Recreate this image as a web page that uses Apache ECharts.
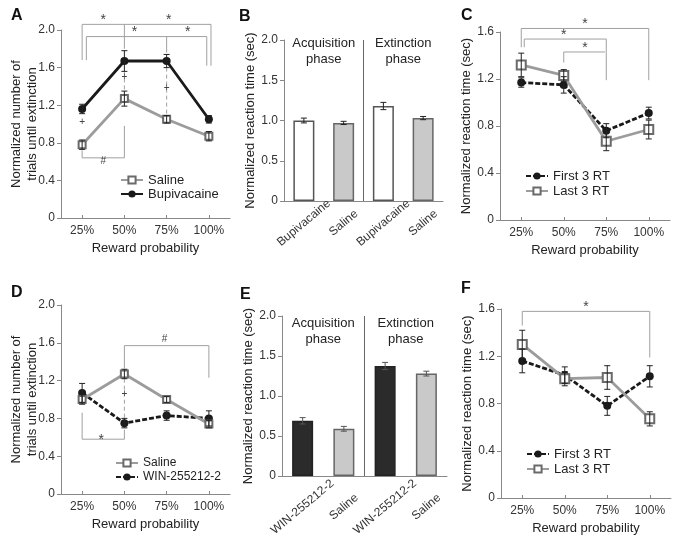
<!DOCTYPE html>
<html>
<head>
<meta charset="utf-8">
<script src="https://cdn.jsdelivr.net/npm/echarts@6/dist/echarts.min.js"></script>
<style>
  html, body { margin: 0; padding: 0; background: #fff; }
  #chart { width: 680px; height: 549px; }
</style>
</head>
<body>
<div id="chart"></div>
<script>
const FONT = '"Liberation Sans", Arial, sans-serif'

// x categories
const probLabels = ['25%', '50%', '75%', '100%']
const bCats = ['Bupivacaine', 'Saline', 'Bupivacaine', 'Saline']
const eCats = ['WIN-255212-2', 'Saline', 'WIN-255212-2', 'Saline']

// A: trials until extinction
const aSaline = [0.78, 1.27, 1.05, 0.87]
const aSalineErr = [0.05, 0.08, 0.04, 0.05]
const aBupi = [1.16, 1.67, 1.67, 1.05]
const aBupiErr = [0.05, 0.11, 0.07, 0.04]

// B: reaction time
const bValues = [1.00, 0.97, 1.18, 1.03]
const bErr = [0.03, 0.02, 0.045, 0.02]

// C: first / last 3 RT
const cFirst = [1.17, 1.15, 0.76, 0.91]
const cFirstErr = [0.04, 0.07, 0.06, 0.05]
const cLast = [1.32, 1.23, 0.67, 0.77]
const cLastErr = [0.10, 0.05, 0.08, 0.08]

// D: trials until extinction
const dSaline = [1.00, 1.27, 1.00, 0.74]
const dSalineErr = [0.05, 0.05, 0.03, 0.04]
const dWin = [1.07, 0.75, 0.83, 0.80]
const dWinErr = [0.10, 0.05, 0.05, 0.08]

// E: reaction time
const eValues = [0.69, 0.59, 1.375, 1.28]
const eErr = [0.04, 0.03, 0.045, 0.03]

// F: first / last 3 RT
const fFirst = [1.16, 1.04, 0.78, 1.03]
const fFirstErr = [0.10, 0.07, 0.08, 0.09]
const fLast = [1.30, 1.01, 1.02, 0.67]
const fLastErr = [0.12, 0.06, 0.10, 0.06]

// annotation brackets [x0, y0, x1, y1] in category index / value units
const aBrackets = [
  [0, 1.68, 0, 2.06], [0, 2.06, 3.05, 2.06], [1, 2.06, 1, 1.80], [3.05, 2.06, 3.05, 1.62],
  [0.1, 1.68, 0.1, 1.93], [0.1, 1.93, 2.95, 1.93], [2, 1.93, 2, 1.76], [2.95, 1.93, 2.95, 1.62],
  [0, 0.72, 0, 0.64], [0, 0.64, 1, 0.64], [1, 0.64, 1, 0.98],
]
const aDashed = [[1, 1.56, 1, 1.36], [2, 1.60, 2, 1.09]]
const aMarks = [
  [0.5, 2.06, '*'], [2.05, 2.06, '*'], [1.24, 1.93, '*'], [2.5, 1.93, '*'],
  [0, 0.98, '+'], [1, 1.46, '+'], [2, 1.34, '+'], [0.5, 0.56, '#'],
]
const cBrackets = [
  [0, 1.47, 0, 1.63], [0, 1.63, 3, 1.63], [3, 1.63, 3, 1.19],
  [0.07, 1.47, 0.07, 1.54], [0.07, 1.54, 2, 1.54], [2, 1.54, 2, 1.19],
  [1, 1.34, 1, 1.43], [1, 1.43, 1.97, 1.43],
]
const cMarks = [[1.5, 1.63, '*'], [1.0, 1.54, '*'], [1.5, 1.43, '*']]
const dBrackets = [
  [1, 1.33, 1, 1.57], [1, 1.57, 3, 1.57], [3, 1.57, 3, 1.23],
  [0, 0.86, 0, 0.58], [0, 0.58, 1, 0.58], [1, 0.58, 1, 0.68],
]
const dDashed = [[1, 1.22, 1, 0.80]]
const dMarks = [[1.95, 1.59, '#'], [1, 1.01, '+'], [0.45, 0.53, '*']]
const fBrackets = [[0, 1.46, 0, 1.58], [0, 1.58, 3, 1.58], [3, 1.58, 3, 1.19]]
const fMarks = [[1.5, 1.58, '*']]
const phaseDivider = [[1.5, 0, 1.5, 2.0]]
const bPhases = [[0.5, 1.86, 'Acquisition\nphase'], [2.5, 1.86, 'Extinction\nphase']]
const ePhases = [[0.5, 1.81, 'Acquisition\nphase'], [2.5, 1.81, 'Extinction\nphase']]

const chart = echarts.init(document.getElementById('chart'))

// point on a category axis that allows fractional indexes
const pt = (api, x, y) => {
  const i = Math.round(x)
  const p = api.coord([i, y])
  p[0] += (x - i) * api.size([1, 0])[0]
  return p
}

const segments = (gi, list, opts = {}) => ({
  type: 'custom', xAxisIndex: gi, yAxisIndex: gi, silent: true, z: 1,
  data: list.map(s => [Math.round(s[0]), s[1]]),
  renderItem: (params, api) => {
    const s = list[params.dataIndex]
    const p0 = pt(api, s[0], s[1])
    const p1 = pt(api, s[2], s[3])
    return {
      type: 'line',
      shape: { x1: p0[0], y1: p0[1], x2: p1[0], y2: p1[1] },
      style: { stroke: opts.color || '#a0a0a0', lineWidth: 1, lineDash: opts.dashed ? [4, 3] : null },
    }
  },
})

const marks = (gi, list) => ({
  type: 'custom', xAxisIndex: gi, yAxisIndex: gi, silent: true, z: 5,
  data: list.map(m => [Math.round(m[0]), m[1]]),
  renderItem: (params, api) => {
    const m = list[params.dataIndex]
    const p = pt(api, m[0], m[1])
    const big = m[2].length > 1
    return {
      type: 'text',
      x: p[0],
      y: p[1] + (big ? 0 : -4),
      style: {
        text: m[2],
        fill: big ? '#222' : '#444',
        fontSize: big ? 13 : (m[2] === '*' ? 14 : 10),
        fontFamily: FONT,
        lineHeight: 16,
        align: 'center',
        verticalAlign: 'middle',
      },
    }
  },
})

const errorBars = (gi, vals, errs, color) => ({
  type: 'custom', xAxisIndex: gi, yAxisIndex: gi, silent: true, z: 4,
  data: vals.map((v, i) => [i, v, errs[i]]),
  renderItem: (params, api) => {
    const i = api.value(0), v = api.value(1), e = api.value(2)
    const top = api.coord([i, v + e])
    const bot = api.coord([i, v - e])
    const style = { stroke: color || '#222', lineWidth: 1 }
    const w = 3
    return {
      type: 'group',
      children: [
        { type: 'line', shape: { x1: top[0], y1: top[1], x2: bot[0], y2: bot[1] }, style },
        { type: 'line', shape: { x1: top[0] - w, y1: top[1], x2: top[0] + w, y2: top[1] }, style },
        { type: 'line', shape: { x1: bot[0] - w, y1: bot[1], x2: bot[0] + w, y2: bot[1] }, style },
      ],
    }
  },
})

const grids = [
  { left: 61, top: 30, width: 169, height: 188 },
  { left: 284, top: 40, width: 159, height: 161 },
  { left: 500, top: 32, width: 170, height: 188 },
  { left: 61, top: 305, width: 169, height: 189 },
  { left: 282, top: 316, width: 165, height: 160 },
  { left: 501, top: 309, width: 170, height: 189 },
]

const axisLine = { show: true, lineStyle: { color: '#888', width: 1 } }

const probAxis = gi => ({
  type: 'category', gridIndex: gi, data: probLabels,
  name: 'Reward probability', nameLocation: 'middle', nameGap: 24,
  nameTextStyle: { fontSize: 13, color: '#222', fontFamily: FONT },
  axisLine,
  axisTick: { show: true, alignWithLabel: true, inside: true, length: 3, lineStyle: { color: '#888' } },
  axisLabel: { fontSize: 12, color: '#333', margin: 7, fontFamily: FONT },
})

// rotated labels centred under each bar
const groupAxis = (gi, cats, margin) => ({
  type: 'category', gridIndex: gi, data: cats,
  axisLine,
  axisTick: { show: false },
  axisLabel: {
    fontSize: 12, color: '#333', margin, rotate: 40, interval: 0, fontFamily: FONT,
    align: 'center', verticalAlign: 'middle',
  },
})

const valueAxis = (gi, max, step, name, gap) => ({
  type: 'value', gridIndex: gi, min: 0, max, interval: step,
  name, nameLocation: 'middle', nameGap: gap, nameMoveOverlap: false,
  nameTextStyle: { fontSize: 13, color: '#222', lineHeight: 16, fontFamily: FONT },
  axisLine,
  axisTick: { show: true, length: 4, lineStyle: { color: '#888' } },
  splitLine: { show: false },
  axisLabel: {
    fontSize: 12, color: '#333', margin: 6, fontFamily: FONT,
    formatter: v => (v === 0 ? '0' : v.toFixed(1)),
  },
})

const trialsName = 'Normalized number of\ntrials until extinction'
const rtName = 'Normalized reaction time (sec)'

const gray = '#9c9c9c'
const black = '#1a1a1a'

const salineLine = (gi, data, size) => ({
  name: 'Saline', type: 'line', xAxisIndex: gi, yAxisIndex: gi, data,
  symbol: 'emptyRect', symbolSize: size,
  lineStyle: { color: gray, width: 2.8 },
  itemStyle: { color: '#6a6a6a', borderWidth: 1.3 },
  z: 3,
})

const blackLine = (name, gi, data, dashed) => ({
  name, type: 'line', xAxisIndex: gi, yAxisIndex: gi, data,
  symbol: 'circle', symbolSize: 8,
  lineStyle: { color: black, width: 2.8, type: dashed ? [5, 2] : 'solid' },
  itemStyle: { color: black },
  z: 2,
})

const lastLine = (gi, data) => ({
  name: 'Last 3 RT', type: 'line', xAxisIndex: gi, yAxisIndex: gi, data,
  symbol: 'emptyRect', symbolSize: 9,
  lineStyle: { color: gray, width: 2.8 },
  itemStyle: { color: '#6a6a6a', borderWidth: 1.3 },
  z: 3,
})

const bars = (gi, values, fills, borders) => ({
  type: 'bar', xAxisIndex: gi, yAxisIndex: gi, barWidth: 21,
  data: values.map((v, i) => ({ value: v, itemStyle: { color: fills[i], borderColor: borders[i], borderWidth: 1.5 } })),
  z: 2,
})

const legend = (names, left, top, gap, size) => ({
  orient: 'vertical', left, top, itemGap: gap, itemWidth: 22, itemHeight: 9, padding: 0,
  data: names, selectedMode: false,
  textStyle: { fontSize: size, color: '#222', lineHeight: 14, fontFamily: FONT },
})

const letter = (text, left, top) => ({
  text, left, top, padding: 0,
  textStyle: { fontSize: 16, fontWeight: 'bold', color: '#111', fontFamily: FONT },
})

const option = {
  animation: false,
  backgroundColor: '#fff',
  textStyle: { fontFamily: FONT },
  title: [
    letter('A', 11, 8), letter('B', 239, 9), letter('C', 461, 8),
    letter('D', 11, 285), letter('E', 240, 287), letter('F', 461, 281),
  ],
  legend: [
    legend(['Saline', 'Bupivacaine'], 120, 173, 0, 13),
    legend(['First 3 RT', 'Last 3 RT'], 525, 169, 1, 13),
    legend(['Saline', 'WIN-255212-2'], 115, 456, 0, 12),
    legend(['First 3 RT', 'Last 3 RT'], 526, 447, 1, 13),
  ],
  grid: grids,
  xAxis: [
    probAxis(0), groupAxis(1, bCats, 22), probAxis(2),
    probAxis(3), groupAxis(4, eCats, 31), probAxis(5),
  ],
  yAxis: [
    valueAxis(0, 2.0, 0.4, trialsName, 21),
    valueAxis(1, 2.0, 0.5, rtName, 26),
    valueAxis(2, 1.6, 0.4, rtName, 26),
    valueAxis(3, 2.0, 0.4, trialsName, 21),
    valueAxis(4, 2.0, 0.5, rtName, 26),
    valueAxis(5, 1.6, 0.4, rtName, 26),
  ],
  series: [
    // A
    segments(0, aBrackets),
    segments(0, aDashed, { dashed: true }),
    marks(0, aMarks),
    salineLine(0, aSaline, 7),
    blackLine('Bupivacaine', 0, aBupi, false),
    errorBars(0, aSaline, aSalineErr),
    errorBars(0, aBupi, aBupiErr),
    // B
    bars(1, bValues, ['#ffffff', '#c9c9c9', '#ffffff', '#c9c9c9'], ['#555', '#666', '#555', '#666']),
    errorBars(1, bValues, bErr),
    segments(1, phaseDivider, { color: '#666' }),
    marks(1, bPhases),
    // C
    segments(2, cBrackets),
    marks(2, cMarks),
    blackLine('First 3 RT', 2, cFirst, true),
    lastLine(2, cLast),
    errorBars(2, cFirst, cFirstErr),
    errorBars(2, cLast, cLastErr),
    // D
    segments(3, dBrackets),
    segments(3, dDashed, { dashed: true }),
    marks(3, dMarks),
    salineLine(3, dSaline, 7),
    blackLine('WIN-255212-2', 3, dWin, true),
    errorBars(3, dSaline, dSalineErr),
    errorBars(3, dWin, dWinErr),
    // E
    bars(4, eValues, ['#2b2b2b', '#c9c9c9', '#2b2b2b', '#c9c9c9'], ['#222', '#666', '#222', '#666']),
    errorBars(4, eValues, eErr, '#555'),
    segments(4, phaseDivider, { color: '#666' }),
    marks(4, ePhases),
    // F
    segments(5, fBrackets),
    marks(5, fMarks),
    blackLine('First 3 RT', 5, fFirst, true),
    lastLine(5, fLast),
    errorBars(5, fFirst, fFirstErr),
    errorBars(5, fLast, fLastErr),
  ],
}

chart.setOption(option)
</script>
</body>
</html>
